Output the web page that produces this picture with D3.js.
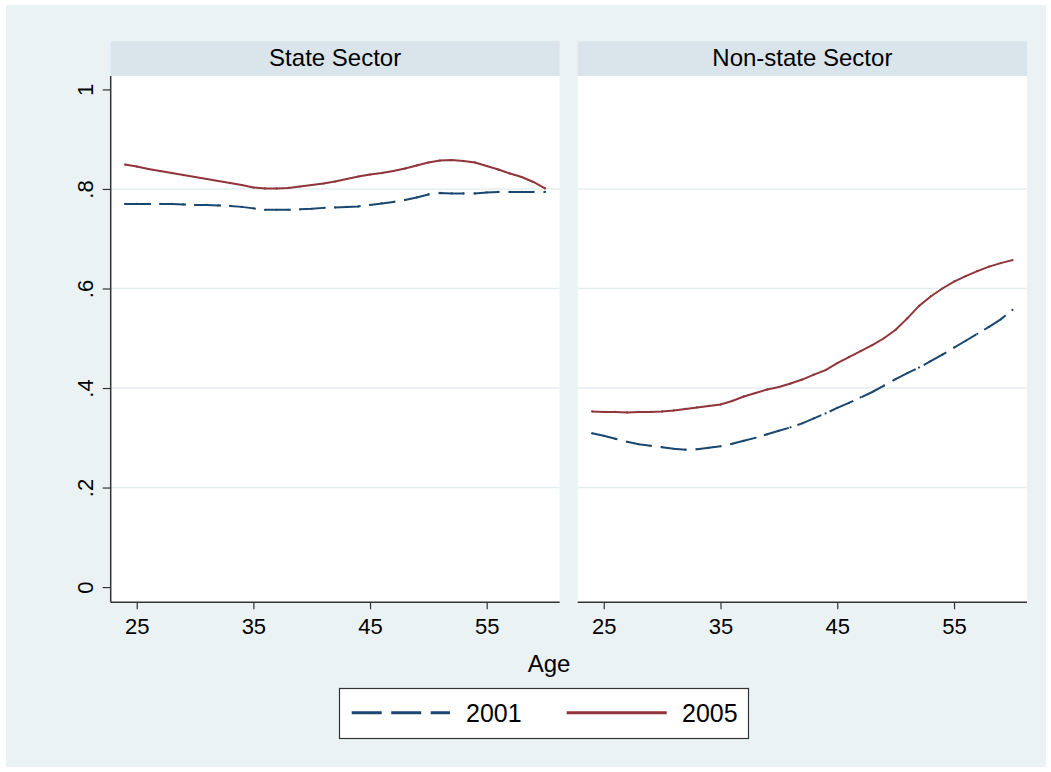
<!DOCTYPE html>
<html><head><meta charset="utf-8">
<script src="https://cdn.jsdelivr.net/npm/d3@7/dist/d3.min.js"></script>
<style>html,body{margin:0;padding:0;background:#fff}svg{display:block;font-family:"Liberation Sans",Arial,sans-serif}</style>
</head><body><svg id="c" width="1051" height="772"></svg>
<script>
const ages = d3.range(24, 61);
const panels = ["State Sector", "Non-state Sector"];
const seriesNames = ["2001", "2005"];
const state2001 = [.770,.770,.770,.770,.770,.769,.768,.768,.767,.766,.764,.761,.758,.758,.758,.759,.760,.762,.763,.764,.765,.768,.771,.774,.778,.783,.789,.792,.791,.791,.791,.793,.794,.794,.794,.794,.794];
const state2005 = [.849,.845,.840,.836,.832,.828,.824,.820,.816,.812,.808,.803,.801,.801,.802,.805,.808,.811,.815,.820,.825,.829,.832,.836,.841,.847,.853,.857,.858,.856,.853,.846,.839,.831,.824,.814,.801];
const nonstate2001 = [.309,.304,.298,.292,.287,.284,.281,.278,.276,.277,.280,.283,.288,.294,.300,.307,.314,.321,.329,.339,.349,.360,.370,.381,.392,.405,.418,.430,.441,.454,.467,.481,.495,.509,.523,.538,.557];
const nonstate2005 = [.353,.352,.352,.351,.352,.352,.353,.355,.358,.361,.364,.367,.374,.383,.390,.397,.402,.409,.417,.427,.436,.450,.462,.474,.486,.500,.517,.540,.565,.584,.600,.614,.625,.635,.644,.651,.657];
const xTicks = [25, 35, 45, 55];
const yTicks = [0, .2, .4, .6, .8, 1];
const yTickLabels = ["0", ".2", ".4", ".6", ".8", "1"];
const gridVals = [.2, .4, .6, .8];

const panelData = [[state2001, state2005], [nonstate2001, nonstate2005]];
const colors = ["#1a476f", "#90353b"];
const dashes = ["26,9", null];

const svg = d3.select("#c");
svg.append("rect").attr("x",6).attr("y",5).attr("width",1040).attr("height",762).attr("fill","#eaf2f3");

const panelX = [[110.7, 559.6], [577.7, 1027]];
const plotTop = 76, plotBottom = 602.3, headTop = 41.3;
const yScale = d3.scaleLinear().domain([-0.0306, 1.027]).range([plotBottom, plotTop]);

panelX.forEach((px, pi) => {
  const x = d3.scaleLinear().domain([22.77, 61.25]).range(px);
  const g = svg.append("g");
  g.append("rect").attr("x", px[0]).attr("y", headTop).attr("width", px[1]-px[0]).attr("height", plotTop-headTop).attr("fill", "#d9e5eb");
  g.append("text").attr("x", (px[0]+px[1])/2).attr("y", 66).attr("text-anchor","middle").attr("font-size",24).attr("fill","#000").text(panels[pi]);
  g.append("rect").attr("x", px[0]).attr("y", plotTop).attr("width", px[1]-px[0]).attr("height", plotBottom-plotTop).attr("fill", "#fff");
  g.selectAll("line.grid").data(gridVals).enter().append("line")
    .attr("x1", px[0]).attr("x2", px[1]).attr("y1", d=>yScale(d)).attr("y2", d=>yScale(d))
    .attr("stroke", "#e4eef0").attr("stroke-width", 1.6);
  panelData[pi].forEach((vals, si) => {
    const pts = ages.map((a, i) => [a, vals[i]]);
    g.append("path").datum(pts)
      .attr("d", d3.line().x(d=>x(d[0])).y(d=>yScale(d[1])))
      .attr("fill","none").attr("stroke", colors[si]).attr("stroke-width", 2)
      .attr("stroke-dasharray", dashes[si]);
    g.selectAll(null).data(pts).enter().append("circle")
      .attr("cx", d=>x(d[0])).attr("cy", d=>yScale(d[1])).attr("r", 1.1)
      .attr("fill", colors[si]);
  });
  const xa = g.append("g").attr("transform", `translate(0,${plotBottom})`)
    .call(d3.axisBottom(x).tickValues(xTicks).tickSize(7).tickPadding(9).tickSizeOuter(0));
  xa.select(".domain").attr("d", `M${px[0]},0H${px[1]}`).attr("stroke","#333").attr("stroke-width",1.5);
  xa.selectAll(".tick line").attr("stroke","#333").attr("stroke-width",1.2);
  xa.selectAll(".tick text").attr("font-size",22).attr("font-family","Liberation Sans, Arial, sans-serif").attr("fill","#000");
  if (pi === 0) {
    const ya = g.append("g").attr("transform", `translate(${px[0]},0)`)
      .call(d3.axisLeft(yScale).tickValues(yTicks).tickFormat((d,i)=>yTickLabels[i]).tickSize(8).tickSizeOuter(0));
    ya.select(".domain").attr("d", `M0,${plotTop}V${plotBottom}`).attr("stroke","#333").attr("stroke-width",1.5);
    ya.selectAll(".tick line").attr("stroke","#333").attr("stroke-width",1.2);
    ya.selectAll(".tick text").attr("font-size",22).attr("font-family","Liberation Sans, Arial, sans-serif").attr("fill","#000")
      .attr("x", null).attr("dy", null).attr("text-anchor","middle")
      .attr("transform","translate(-17.5,0) rotate(-90)");
  }
});

svg.append("text").attr("x", 549).attr("y", 672).attr("text-anchor","middle").attr("font-size",24).attr("fill","#000").text("Age");

const lg = svg.append("g");
lg.append("rect").attr("x",339.5).attr("y",688.5).attr("width",409).attr("height",50).attr("fill","#fff").attr("stroke","#333").attr("stroke-width",1.2);
const legItems = [{x1:351.7,x2:450,tx:466}, {x1:566.7,x2:666.7,tx:682}];
legItems.forEach((it, i) => {
  lg.append("line").attr("x1",it.x1).attr("x2",it.x2).attr("y1",712.7).attr("y2",712.7)
    .attr("stroke",colors[i]).attr("stroke-width",3).attr("stroke-dasharray", i===0 ? "30,9.5" : null);
  lg.append("text").attr("x",it.tx).attr("y",722).attr("font-size",25).attr("fill","#000").text(seriesNames[i]);
});
</script></body></html>
